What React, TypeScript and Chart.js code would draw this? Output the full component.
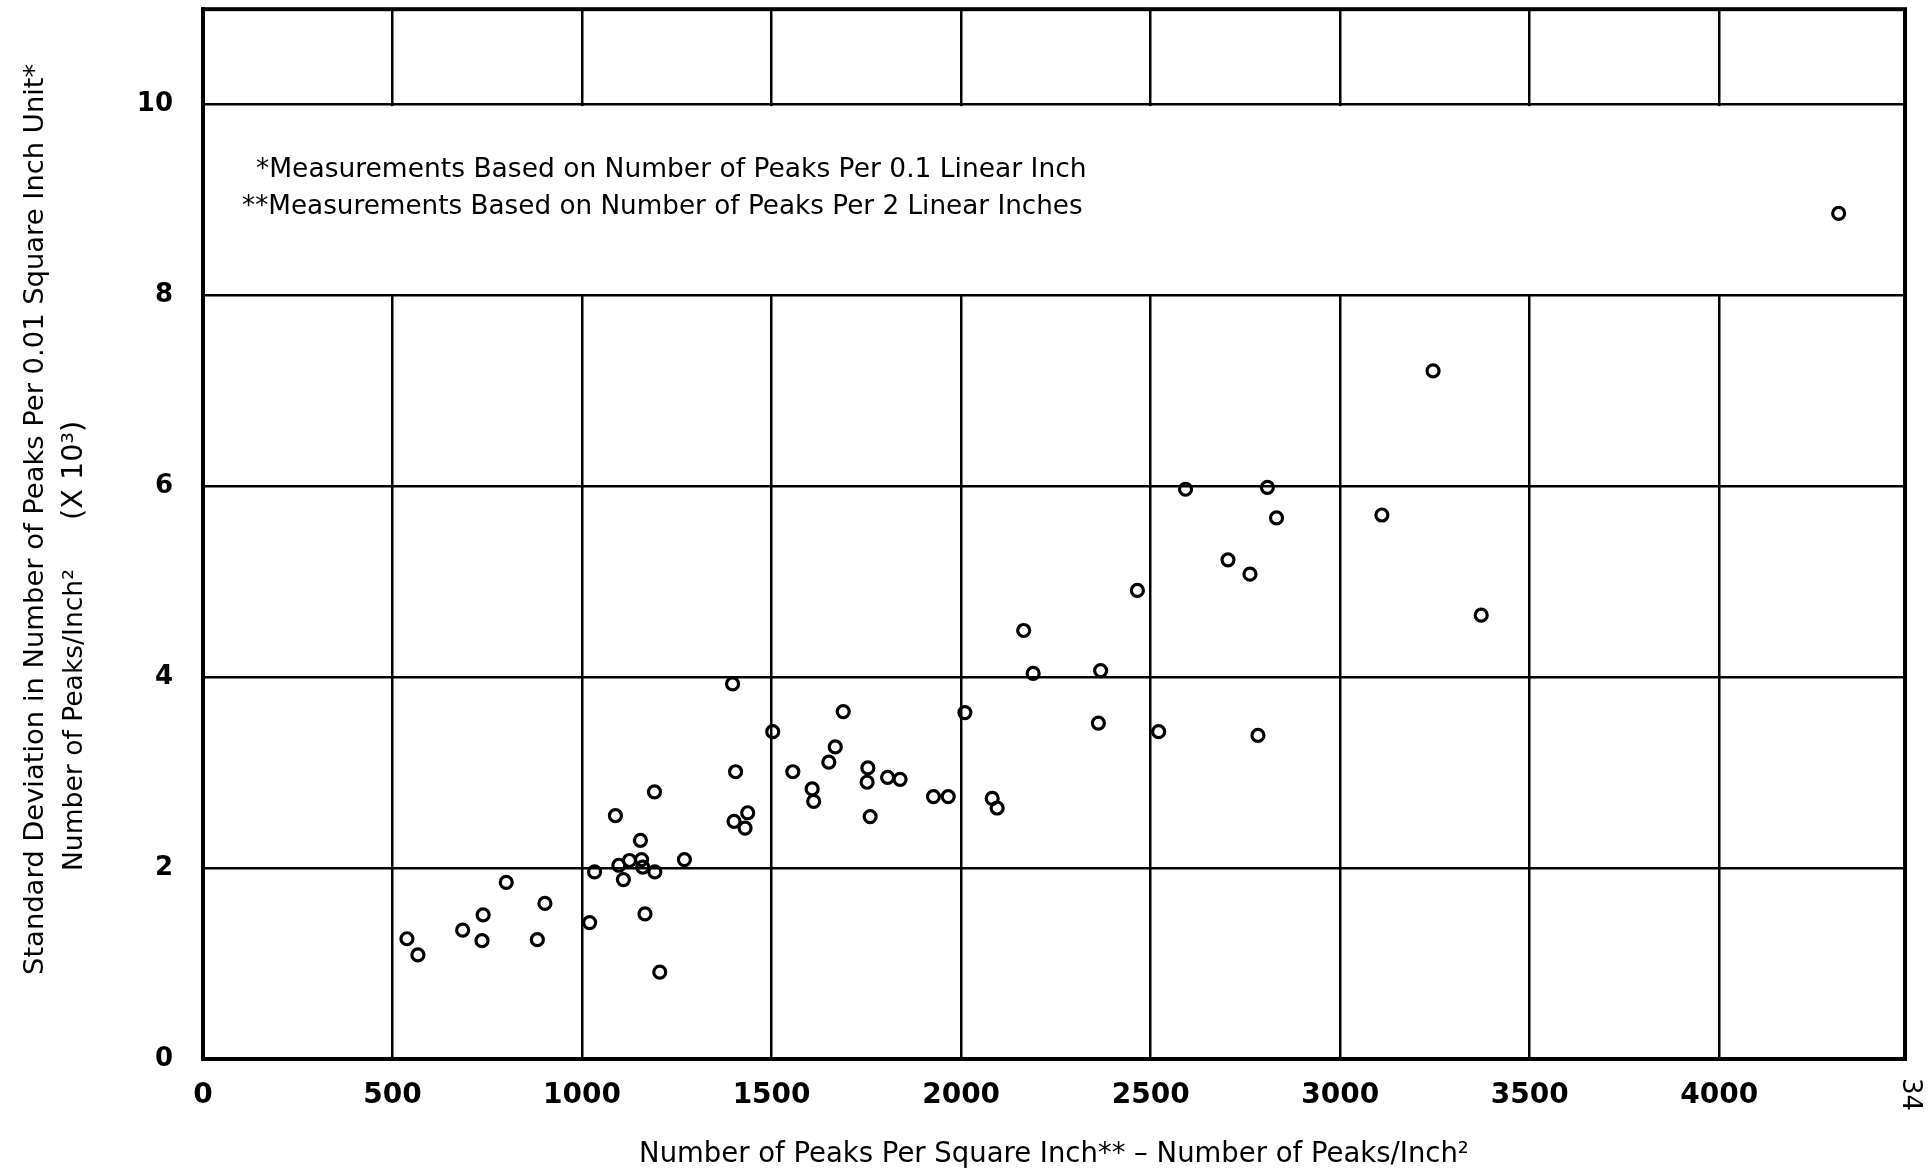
import React, { useEffect, useRef } from 'react';
import { Chart, registerables } from 'chart.js';

Chart.register(...registerables);

// ---- Data ----
const peaksPerSqInch = [
  538, 567, 685, 739, 736, 800, 882, 902, 1020, 1033,
  1088, 1097, 1109, 1125, 1154, 1157, 1160, 1166, 1192, 1191,
  1205, 1270, 1397, 1405, 1401, 1430, 1437, 1503, 1556, 1607,
  1611, 1651, 1668, 1689, 1754, 1752, 1760, 1806, 1839, 1927,
  1966, 2010, 2082, 2095, 2165, 2190, 2362, 2368, 2465, 2521,
  2592, 2704, 2762, 2783, 2808, 2832, 3110, 3245, 3372, 4315,
];
const stdDeviation = [
  1.26, 1.09, 1.35, 1.51, 1.24, 1.85, 1.25, 1.63, 1.43, 1.96,
  2.55, 2.03, 1.88, 2.08, 2.29, 2.09, 2.01, 1.52, 1.96, 2.8,
  0.91, 2.09, 3.93, 3.01, 2.49, 2.42, 2.58, 3.43, 3.01, 2.83,
  2.7, 3.11, 3.27, 3.64, 3.05, 2.9, 2.54, 2.95, 2.93, 2.75,
  2.75, 3.63, 2.73, 2.63, 4.49, 4.04, 3.52, 4.07, 4.91, 3.43,
  5.97, 5.23, 5.08, 3.39, 5.99, 5.67, 5.7, 7.21, 4.65, 8.86,
];
const xTickValues = [0, 500, 1000, 1500, 2000, 2500, 3000, 3500, 4000];
const yTickValues = [0, 2, 4, 6, 8, 10];
const xAxisMin = 0;
const xAxisMax = 4490;
const yAxisMin = 0;
const yAxisMax = 11;
const blankBandFrom = 8;
const blankBandTo = 10;

const xAxisTitle = 'Number of Peaks Per Square Inch** \u2013 Number of Peaks/Inch\u00B2';
const yAxisTitleLine1 = 'Standard Deviation in Number of Peaks Per 0.01 Square Inch Unit*';
const yAxisTitleLine2a = 'Number of Peaks/Inch\u00B2';
const yAxisTitleLine2b = '(X 10\u00B3)';
const footnotes = [
  '*Measurements Based on Number of Peaks Per 0.1 Linear Inch',
  '**Measurements Based on Number of Peaks Per 2 Linear Inches',
];
const pageNumber = '34';

const FONT = '"DejaVu Sans", "Liberation Sans", sans-serif';

function fitSize(text: string, targetWidth: number, weight = 'normal', base = 30): number {
  const c = document.createElement('canvas');
  const ctx = c.getContext('2d')!;
  ctx.font = `${weight} ${base}px ${FONT}`;
  const w = ctx.measureText(text).width;
  return (base * targetWidth) / w;
}

const decorPlugin = {
  id: 'decor',
  beforeDraw(chart: any) {
    const { ctx, width, height } = chart;
    ctx.save();
    ctx.fillStyle = '#ffffff';
    ctx.fillRect(0, 0, width, height);
    ctx.restore();
  },
  beforeDatasetsDraw(chart: any) {
    const { ctx, chartArea: a, scales } = chart;
    const yS = scales.y;
    const yTop = yS.getPixelForValue(blankBandTo);
    const yBot = yS.getPixelForValue(blankBandFrom);
    ctx.save();
    ctx.fillStyle = '#ffffff';
    ctx.fillRect(a.left + 2, yTop + 1.5, a.right - a.left - 4, yBot - yTop - 3);
    ctx.strokeStyle = '#000000';
    ctx.lineWidth = 4;
    ctx.strokeRect(a.left, a.top, a.right - a.left, a.bottom - a.top);
    ctx.restore();
  },
  afterDraw(chart: any) {
    const { ctx } = chart;
    ctx.save();
    ctx.fillStyle = '#000000';
    ctx.textBaseline = 'alphabetic';
    ctx.textAlign = 'left';

    // footnotes inside the plot
    const s1 = fitSize(footnotes[0], 831);
    ctx.font = `normal ${s1}px ${FONT}`;
    ctx.fillText(footnotes[0], 256, 177);
    const s2 = fitSize(footnotes[1], 841);
    ctx.font = `normal ${s2}px ${FONT}`;
    ctx.fillText(footnotes[1], 242, 214);

    // y-axis title, line 1
    const sy1 = fitSize(yAxisTitleLine1, 912);
    ctx.save();
    ctx.translate(43, 975);
    ctx.rotate(-Math.PI / 2);
    ctx.font = `normal ${sy1}px ${FONT}`;
    ctx.fillText(yAxisTitleLine1, 0, 0);
    ctx.restore();

    // y-axis title, line 2
    const sy2 = fitSize(yAxisTitleLine2a, 302);
    ctx.save();
    ctx.translate(82, 871);
    ctx.rotate(-Math.PI / 2);
    ctx.font = `normal ${sy2}px ${FONT}`;
    ctx.fillText(yAxisTitleLine2a, 0, 0);
    ctx.font = `normal ${sy2 * 1.08}px ${FONT}`;
    ctx.fillText(yAxisTitleLine2b, 871 - 520, 0);
    ctx.restore();

    // page number
    ctx.save();
    ctx.translate(1903, 1078);
    ctx.rotate(Math.PI / 2);
    ctx.font = `normal 26px ${FONT}`;
    ctx.fillText(pageNumber, 0, 0);
    ctx.restore();

    ctx.restore();
  },
};

export default function App() {
  const canvasRef = useRef<HTMLCanvasElement | null>(null);

  useEffect(() => {
    const canvas = canvasRef.current;
    if (!canvas) return;
    const xTitleSize = fitSize(xAxisTitle, 830);
    const points = peaksPerSqInch.map((x, i) => ({ x, y: stdDeviation[i] }));

    const chart = new Chart(canvas, {
      type: 'scatter',
      data: {
        datasets: [
          {
            label: 'Standard deviation',
            data: points,
            pointStyle: 'circle',
            pointRadius: 6,
            pointHoverRadius: 6,
            borderColor: '#000000',
            backgroundColor: 'rgba(0,0,0,0)',
            borderWidth: 3.2,
            showLine: false,
          },
        ],
      },
      options: {
        animation: false,
        responsive: false,
        devicePixelRatio: 1,
        layout: { padding: { left: 0, top: 8, right: 24, bottom: 0 } },
        plugins: {
          legend: { display: false },
          tooltip: { enabled: false },
        },
        scales: {
          x: {
            type: 'linear',
            min: xAxisMin,
            max: xAxisMax,
            afterBuildTicks: (scale: any) => {
              scale.ticks = xTickValues.map((v) => ({ value: v }));
            },
            afterFit: (scale: any) => {
              scale.height = 112;
              scale.paddingLeft = 0;
              scale.paddingRight = 0;
            },
            ticks: {
              autoSkip: false,
              maxRotation: 0,
              padding: 20,
              color: '#000000',
              font: { family: FONT, size: 28, weight: 'bold' },
              callback: (v: any) => String(v),
            },
            grid: { color: '#000000', lineWidth: 2.5, drawTicks: false },
            border: { color: '#000000', width: 4 },
            title: {
              display: true,
              text: xAxisTitle,
              color: '#000000',
              font: { family: FONT, size: xTitleSize, weight: 'normal' },
              padding: { top: 0, bottom: 0 },
            },
          },
          y: {
            type: 'linear',
            min: yAxisMin,
            max: yAxisMax,
            afterBuildTicks: (scale: any) => {
              scale.ticks = yTickValues.map((v) => ({ value: v }));
            },
            afterFit: (scale: any) => {
              scale.width = 203;
              scale.paddingTop = 0;
              scale.paddingBottom = 0;
            },
            ticks: {
              autoSkip: false,
              padding: 30,
              color: '#000000',
              font: { family: FONT, size: 26, weight: 'bold' },
              callback: (v: any) => String(v),
            },
            grid: { color: '#000000', lineWidth: 2.5, drawTicks: false },
            border: { color: '#000000', width: 4 },
            title: { display: false },
          },
        },
      },
      plugins: [decorPlugin],
    });

    return () => {
      chart.destroy();
    };
  }, []);

  return (
    <div style={{ position: 'fixed', left: 0, top: 0, width: 1929, height: 1171, background: '#fff' }}>
      <canvas ref={canvasRef} width={1929} height={1171} style={{ display: 'block' }} />
    </div>
  );
}
